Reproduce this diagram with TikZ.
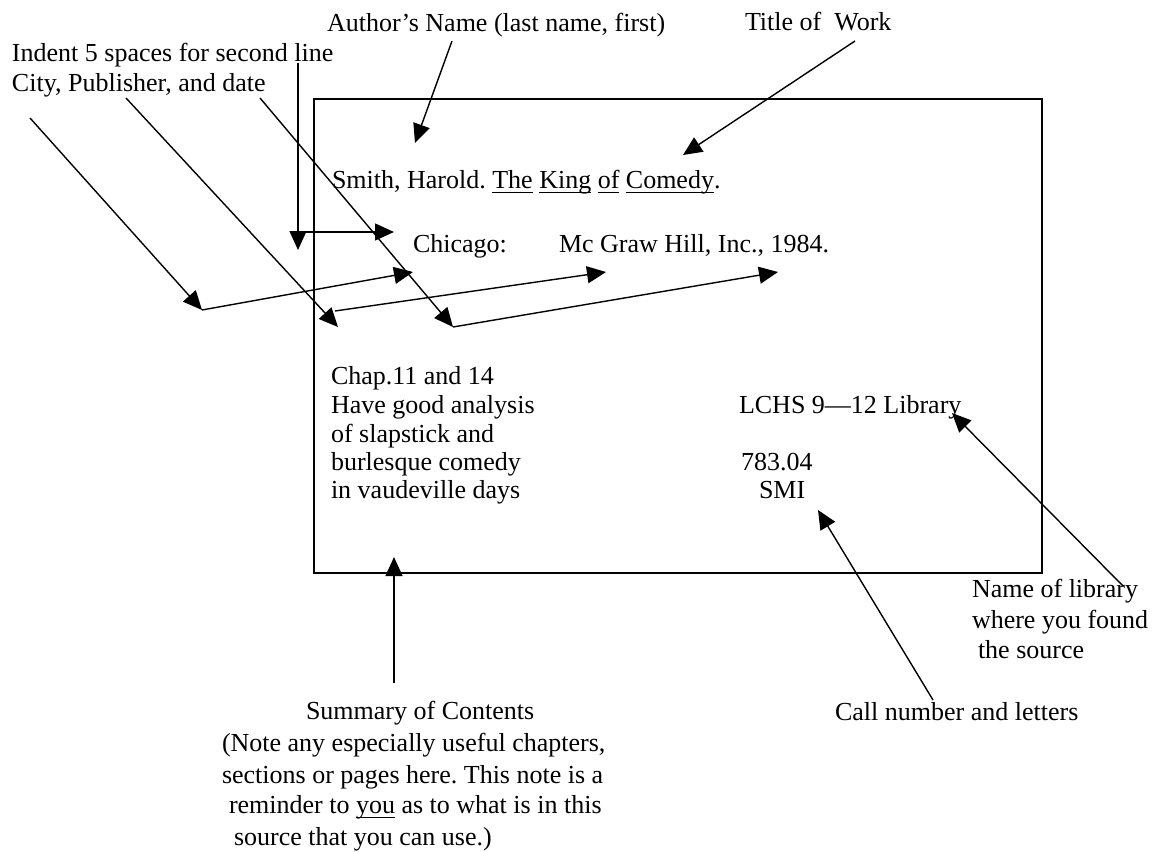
\documentclass[tikz,border=0pt]{standalone}
\usepackage{fontspec}
\setmainfont{Liberation Serif}
\newcommand{\myul}[1]{\leavevmode\setbox0\hbox{#1}\rlap{\rule[-4.8pt]{\wd0}{1.3pt}}\box0\relax}
\usetikzlibrary{arrows.meta}
\frenchspacing
\begin{document}
\begin{tikzpicture}[x=1pt,y=-1pt,
  lbl/.style={anchor=base west,inner sep=0pt,outer sep=0pt,font=\fontsize{26}{31}\selectfont},
  arr/.style={line width=1.4pt,-{Triangle[length=19pt,width=17pt]}},
  card/.style={line width=2pt}]
\useasboundingbox[fill=white] (0,0) rectangle (1156,851);

% the card
\draw[card] (314,99) rectangle (1042,573);

% labels outside the card
\node[lbl] (author) at (327,32) {Author’s Name (last name, first)};
\node[lbl] (title) at (745,31) {Title of\ \ Work};
\node[lbl] (indent) at (12,62) {Indent 5 spaces for second line};
\node[lbl] (city) at (12,92) {City, Publisher, and date};

% card contents
\node[lbl] (entry1) at (332,188) {Smith, Harold. \myul{The} \myul{King} \myul{of} \myul{Comedy}.};
\node[lbl] (chicago) at (413,252) {Chicago:};
\node[lbl] (publ) at (559,252) {Mc Graw Hill, Inc., 1984.};
\node[lbl] (s1) at (331,384.5) {Chap.11 and 14};
\node[lbl] (s2) at (331,413) {Have good analysis};
\node[lbl] (s3) at (331,442) {of slapstick and};
\node[lbl] (s4) at (331,470) {burlesque comedy};
\node[lbl] (s5) at (331,498) {in vaudeville days};
\node[lbl] (lib) at (739,413) {LCHS 9—12 Library};
\node[lbl] (callno) at (741,470) {783.04};
\node[lbl] (smi) at (759,498) {SMI};

% labels below / right
\node[lbl] (name1) at (972,597) {Name of library};
\node[lbl] (name2) at (972,628) {where you found};
\node[lbl] (name3) at (978,658) {the source};
\node[lbl] (calllbl) at (835,720) {Call number and letters};
\node[lbl] (sum0) at (306,719) {Summary of Contents};
\node[lbl] (sum1) at (222,751) {(Note any especially useful chapters,};
\node[lbl] (sum2) at (222,783) {sections or pages here. This note is a};
\node[lbl] (sum3) at (229,813) {reminder to \myul{you} as to what is in this};
\node[lbl] (sum4) at (234,845) {source that you can use.)};

% connector end points
\coordinate (aS) at (452,41);   \coordinate (aT) at (415,143);
\coordinate (tS) at (855,41);   \coordinate (tT) at (683,155);
\coordinate (iS) at (298,63);   \coordinate (iT) at (298,250);
\coordinate (iH) at (298,232);  \coordinate (iR) at (394,232);
\coordinate (c1S) at (30,118);  \coordinate (c1K) at (202,310); \coordinate (c1T) at (413,272);
\coordinate (c2S) at (126,98);  \coordinate (c2K) at (338,327);
\coordinate (c2B) at (335,311); \coordinate (c2T) at (606,272);
\coordinate (c3S) at (260,98);  \coordinate (c3K) at (453,327); \coordinate (c3T) at (778,272);
\coordinate (lS) at (1123,586); \coordinate (lT) at (952,413);
\coordinate (kS) at (933,700);  \coordinate (kT) at (818,510);
\coordinate (mS) at (394,683);  \coordinate (mT) at (394,557);

% connectors
\draw[arr] (aS) -- (aT);
\draw[arr] (tS) -- (tT);
\draw[arr] (iS) -- (iT);
\draw[arr] (iH) -- (iR);
\draw[arr] (c1S) -- (c1K);
\draw[arr] (c1K) -- (c1T);
\draw[arr] (c2S) -- (c2K);
\draw[arr] (c2B) -- (c2T);
\draw[arr] (c3S) -- (c3K);
\draw[arr] (c3K) -- (c3T);
\draw[arr] (lS) -- (lT);
\draw[arr] (kS) -- (kT);
\draw[arr] (mS) -- (mT);
\end{tikzpicture}
\end{document}
